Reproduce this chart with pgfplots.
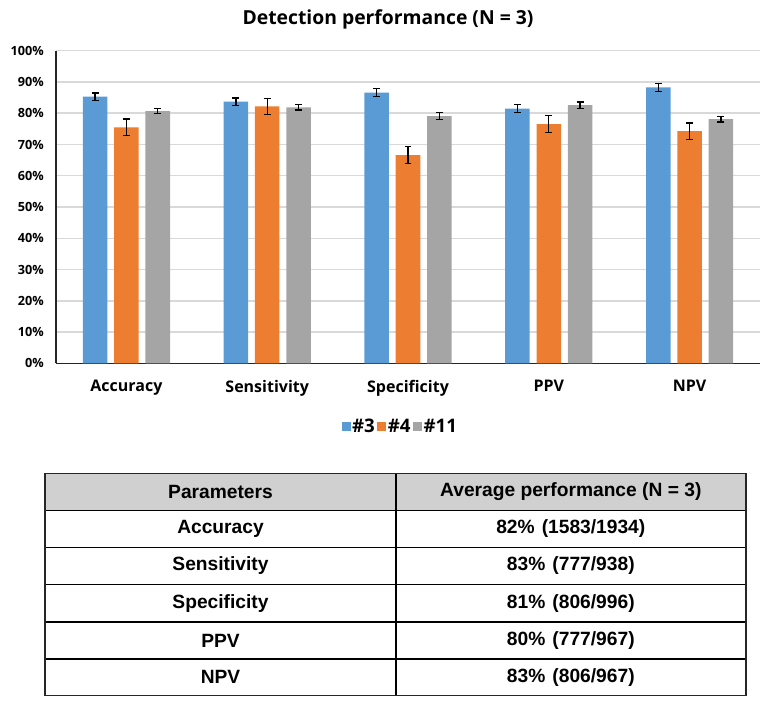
\documentclass[border=0pt]{standalone}
\usepackage{fontspec}
\setmainfont{Open Sans}
\newfontfamily\tabfont{Liberation Sans}
\usepackage{pgfplots}
\pgfplotsset{compat=1.18}
\definecolor{c3}{HTML}{5B9BD5}
\definecolor{c4}{HTML}{ED7D31}
\definecolor{c11}{HTML}{A5A5A5}
\definecolor{gridc}{HTML}{D9D9D9}
\definecolor{hdr}{HTML}{D0D0D0}
\begin{document}
\begin{tikzpicture}
\useasboundingbox (0,0) rectangle (583.5pt,-532.5pt);
\node[font=\bfseries\fontsize{14.5}{16}\selectfont, anchor=base] at (291pt,-18.75pt) {Detection performance (N = 3)};
\begin{axis}[
  scale only axis, width=528pt, height=234.45pt,
  at={(42pt,-272.475pt)}, anchor=south west,
  ybar, bar width=18.4pt,
  ymin=0, ymax=100, xmin=-0.5, xmax=4.5,
  axis x line=bottom, axis y line=left,
  axis line style={-, line width=1.1pt, black!85},
  ytick={0,10,...,100},
  yticklabel={\pgfmathprintnumber{\tick}\%},
  /pgf/number format/assume math mode=true,
  ymajorgrids, grid style={gridc, line width=1.1pt},
  y tick style={draw=none},
  xtick={0,1,2,3,4},
  xticklabels={Accuracy,Sensitivity,Specificity,PPV,NPV},
  x tick style={draw=none},
  extra x ticks={-0.5,0.5,1.5,2.5,3.5,4.5},
  extra x tick labels={},
  extra x tick style={tick style={draw=black!85, line width=1pt}, major tick length=8.5pt, tick align=center, grid=none},
  yticklabel style={font=\bfseries\fontsize{9.5}{10}\selectfont, xshift=-3.5pt},
  xticklabel style={font=\bfseries\fontsize{12}{13}\selectfont, yshift=-7pt},
  legend columns=3,
  legend style={at={(0.4886,-0.2028)}, anchor=center, draw=none, fill=none,
    font=\bfseries\fontsize{14}{15}\selectfont,
    /tikz/every even column/.append style={column sep=1pt},
    nodes={inner sep=1pt}},
  error bars/y dir=both, error bars/y explicit,
  error bars/error bar style={line width=1pt, black},
  error bars/error mark options={rotate=90, mark size=2.6pt, line width=1pt, black},
]
\addplot[fill=c3, draw=none, bar shift=-23.5pt,
  legend image code/.code={\fill[c3] (0pt,-3.4pt) rectangle (6.8pt,3.4pt);}]
  coordinates {(0,85.3) +- (0,1.2) (1,83.7) +- (0,1.2) (2,86.6) +- (0,1.3) (3,81.5) +- (0,1.3) (4,88.3) +- (0,1.3)};
\addplot[fill=c4, draw=none, bar shift=0pt,
  legend image code/.code={\fill[c4] (0pt,-3.4pt) rectangle (6.8pt,3.4pt);}]
  coordinates {(0,75.5) +- (0,2.6) (1,82.2) +- (0,2.6) (2,66.6) +- (0,2.7) (3,76.5) +- (0,2.7) (4,74.3) +- (0,2.6)};
\addplot[fill=c11, draw=none, bar shift=23.5pt,
  legend image code/.code={\fill[c11] (0pt,-3.4pt) rectangle (6.8pt,3.4pt);}]
  coordinates {(0,80.7) +- (0,0.85) (1,81.9) +- (0,0.9) (2,79.1) +- (0,1.05) (3,82.6) +- (0,1.0) (4,78.1) +- (0,0.95)};
\legend{\#3,\#4,\#11}
\end{axis}
\begin{scope}[x=0.75pt, y=-0.75pt]
\fill[hdr] (45,473.3) rectangle (745.7,510.7);
\foreach \yy in {510.7,547.3,584.3,622,659} \draw[line width=0.9pt, black] (45,\yy) -- (745.7,\yy);
\draw[line width=0.9pt, black] (396,473.3) -- (396,695.3);
\draw[line width=1.2pt, black!85] (45,473.3) rectangle (745.7,695.3);
\begin{scope}[every node/.style={font=\tabfont\bfseries\fontsize{14.4}{15}\selectfont, anchor=center}]
\node at (220.5,492) {Parameters};
\node at (570.8,492) {Average performance (N = 3)};
\node at (220.5,529) {Accuracy};
\node at (570.8,529) {82\%\hspace{0.37em}(1583/1934)};
\node at (220.5,565.8) {Sensitivity};
\node at (570.8,565.8) {83\%\hspace{0.37em}(777/938)};
\node at (220.5,603.2) {Specificity};
\node at (570.8,603.2) {81\%\hspace{0.37em}(806/996)};
\node at (220.5,640.5) {PPV};
\node at (570.8,640.5) {80\%\hspace{0.37em}(777/967)};
\node at (220.5,677.2) {NPV};
\node at (570.8,677.2) {83\%\hspace{0.37em}(806/967)};
\end{scope}
\end{scope}
\end{tikzpicture}
\end{document}
